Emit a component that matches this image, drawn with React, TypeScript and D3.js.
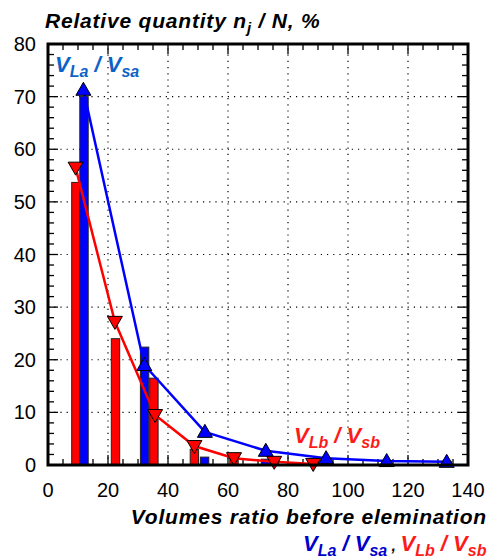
import React from "react";
import * as d3 from "d3";

// bar data (x centre, value %)
const redBarX = [9.3, 22.5, 35.3, 48.8, 62, 75.5, 88.5];
const redBarY = [53.7, 24, 16.5, 3, 1.5, 0.6, 0.3];
const blueBarX = [12, 32.2, 52.2, 72.5, 92.5, 112.7, 133];
const blueBarY = [70, 22.4, 1.5, 1.1, 0.6, 0.5, 0.7];

// line + marker data
const redLineX = [9.2, 22.3, 35.7, 48.8, 62, 75.4, 88.4];
const redLineY = [56.5, 27.2, 9.5, 3.6, 1.3, 0.6, 0.2];
const blueLineX = [11.8, 32.1, 52.3, 72.6, 92.7, 112.9, 132.9];
const blueLineY = [71.3, 19, 6.3, 2.7, 1.3, 0.75, 0.6];

const xMajor = [0, 20, 40, 60, 80, 100, 120, 140];
const yMajor = [0, 10, 20, 30, 40, 50, 60, 70, 80];

const W = 492, H = 560;
const margin = { left: 48, right: 24, top: 44, bottom: 95 };
const FONT = "'Liberation Sans', Arial, sans-serif";

export default function App() {
  const x = d3.scaleLinear().domain([0, 140]).range([margin.left, W - margin.right]);
  const y = d3.scaleLinear().domain([0, 80]).range([H - margin.bottom, margin.top]);
  const [x0, x1] = x.range();
  const [y0, y1] = y.range();
  const barW = x(2.8) - x(0);

  const mkLine = (xs: number[], ys: number[]) =>
    d3.line<number>().x((d) => x(xs[d])).y((d) => y(ys[d]))(xs.map((_, i) => i)) || "";

  const xMinor = d3.range(0, 141, 5).filter((v) => v % 20 !== 0);
  const yMinor = d3.range(0, 81, 2).filter((v) => v % 10 !== 0);

  const triUp = (cx: number, cy: number) =>
    `M${cx},${cy - 7.5}L${cx + 7.5},${cy + 5.5}L${cx - 7.5},${cy + 5.5}Z`;
  const triDown = (cx: number, cy: number) =>
    `M${cx},${cy + 7.5}L${cx + 7.5},${cy - 5.5}L${cx - 7.5},${cy - 5.5}Z`;

  // V_a / V_b label, absolute baselines so nothing drifts (start-anchored only)
  const ratio = (a: string, b: string, base: number, small: number) => (
    <>
      <tspan y={base}>V</tspan>
      <tspan fontSize={small} y={base + 5}>{a}</tspan>
      <tspan y={base}> / V</tspan>
      <tspan fontSize={small} y={base + 5}>{b}</tspan>
    </>
  );

  return (
    <svg width={W} height={H} style={{ position: "absolute", left: 0, top: 0, background: "white" }}>
      <rect width={W} height={H} fill="white" />
      {/* grid */}
      <g stroke="black" strokeWidth={1.2} strokeDasharray="1.2 5">
        {xMajor.slice(1, -1).map((v) => (
          <line key={"gx" + v} x1={x(v)} x2={x(v)} y1={y0} y2={y1} />
        ))}
        {yMajor.slice(1, -1).map((v) => (
          <line key={"gy" + v} x1={x0} x2={x1} y1={y(v)} y2={y(v)} />
        ))}
      </g>
      {/* ticks */}
      <g stroke="black" strokeWidth={1.3}>
        {xMajor.map((v) => (
          <g key={"tx" + v}>
            <line x1={x(v)} x2={x(v)} y1={y0} y2={y0 - 10} />
            <line x1={x(v)} x2={x(v)} y1={y1} y2={y1 + 10} />
          </g>
        ))}
        {xMinor.map((v) => (
          <g key={"mx" + v}>
            <line x1={x(v)} x2={x(v)} y1={y0} y2={y0 - 6} />
            <line x1={x(v)} x2={x(v)} y1={y1} y2={y1 + 6} />
          </g>
        ))}
        {yMajor.map((v) => (
          <g key={"ty" + v}>
            <line x1={x0} x2={x0 + 10} y1={y(v)} y2={y(v)} />
            <line x1={x1} x2={x1 - 10} y1={y(v)} y2={y(v)} />
          </g>
        ))}
        {yMinor.map((v) => (
          <g key={"my" + v}>
            <line x1={x0} x2={x0 + 6} y1={y(v)} y2={y(v)} />
            <line x1={x1} x2={x1 - 6} y1={y(v)} y2={y(v)} />
          </g>
        ))}
      </g>
      {/* bars */}
      <g stroke="#222" strokeWidth={1}>
        {redBarX.map((v, i) => (
          <rect key={"rb" + i} x={x(v) - barW / 2} width={barW} y={y(redBarY[i])} height={y(0) - y(redBarY[i])} fill="#ff0000" />
        ))}
        {blueBarX.map((v, i) => (
          <rect key={"bb" + i} x={x(v) - barW / 2} width={barW} y={y(blueBarY[i])} height={y(0) - y(blueBarY[i])} fill="#0000ff" />
        ))}
      </g>
      {/* lines */}
      <path d={mkLine(blueLineX, blueLineY)} fill="none" stroke="#0000ff" strokeWidth={2.5} />
      <path d={mkLine(redLineX, redLineY)} fill="none" stroke="#ff0000" strokeWidth={2.5} />
      {/* markers */}
      <g stroke="black" strokeWidth={1}>
        {blueLineX.map((v, i) => (
          <path key={"bm" + i} d={triUp(x(v), y(blueLineY[i]))} fill="#0000ff" />
        ))}
        {redLineX.map((v, i) => (
          <path key={"rm" + i} d={triDown(x(v), y(redLineY[i]))} fill="#ff0000" />
        ))}
      </g>
      {/* frame */}
      <rect x={x0} y={y1} width={x1 - x0} height={y0 - y1} fill="none" stroke="black" strokeWidth={3} />
      {/* tick labels */}
      <g fontFamily={FONT} fontSize={20} fill="black">
        {xMajor.map((v) => (
          <text key={"lx" + v} x={x(v)} y={y0 + 32} textAnchor="middle">{v}</text>
        ))}
        {yMajor.map((v) => (
          <text key={"ly" + v} x={x0 - 12} y={y(v) + 7} textAnchor="end">{v}</text>
        ))}
      </g>
      {/* titles */}
      <g fontFamily={FONT} fontWeight="bold" fontStyle="italic" fontSize={21}>
        <text x={45} y={28} letterSpacing={0.8}>
          <tspan y={28}>Relative quantity n</tspan>
          <tspan fontSize={15} y={33}>j</tspan>
          <tspan y={28}> / N, %</tspan>
        </text>
        <text x={487} y={524} textAnchor="end" letterSpacing={0.8}>Volumes ratio before elemination</text>
        <text x={303} y={551} fontSize={22}>
          <tspan fill="#0000cc">{ratio("La", "sa", 551, 16)}</tspan>
          <tspan fill="#111" fontSize={16} y={551}> , </tspan>
          <tspan fill="#ff1a1a">{ratio("Lb", "sb", 551, 16)}</tspan>
        </text>
        <text x={55} y={72} fill="#0d62c8" fontSize={22}>
          {ratio("La", "sa", 72, 16)}
        </text>
        <text x={294} y={443} fill="#ff1a1a" fontSize={22}>
          {ratio("Lb", "sb", 443, 16)}
        </text>
      </g>
    </svg>
  );
}
